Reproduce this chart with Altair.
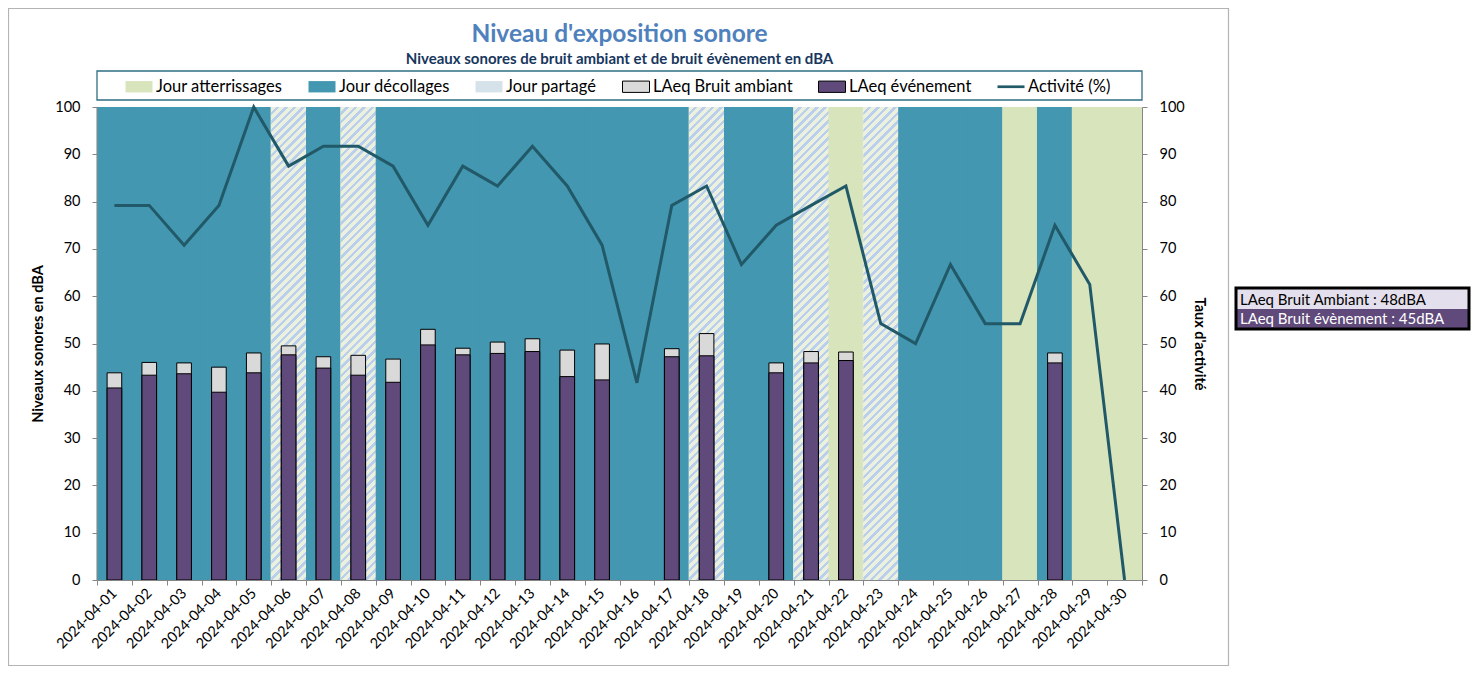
import altair as alt
import pandas as pd

# ---------------- data ----------------
dates = [
    "2024-04-01", "2024-04-02", "2024-04-03", "2024-04-04", "2024-04-05",
    "2024-04-06", "2024-04-07", "2024-04-08", "2024-04-09", "2024-04-10",
    "2024-04-11", "2024-04-12", "2024-04-13", "2024-04-14", "2024-04-15",
    "2024-04-16", "2024-04-17", "2024-04-18", "2024-04-19", "2024-04-20",
    "2024-04-21", "2024-04-22", "2024-04-23", "2024-04-24", "2024-04-25",
    "2024-04-26", "2024-04-27", "2024-04-28", "2024-04-29", "2024-04-30",
]
D, A, P = "Jour décollages", "Jour atterrissages", "Jour partagé"
day_types = [
    D, D, D, D, D,
    P, D, P, D, D,
    D, D, D, D, D,
    D, D, P, D, D,
    P, A, P, D, D,
    D, A, D, A, A,
]
ambient = [
    43.8, 46.0, 45.9, 45.0, 48.0,
    49.5, 47.2, 47.5, 46.7, 53.0,
    49.0, 50.3, 51.0, 48.6, 49.9,
    None, 48.9, 52.1, None, 45.9,
    48.3, 48.2, None, None, None,
    None, None, 48.0, None, None,
]
event = [
    40.6, 43.3, 43.6, 39.7, 43.8,
    47.6, 44.8, 43.3, 41.8, 49.7,
    47.6, 47.9, 48.3, 43.0, 42.3,
    None, 47.2, 47.4, None, 43.8,
    45.9, 46.4, None, None, None,
    None, None, 45.9, None, None,
]
activity = [
    79.2, 79.2, 70.8, 79.2, 100.0,
    87.5, 91.7, 91.7, 87.5, 75.0,
    87.5, 83.3, 91.7, 83.3, 70.8,
    41.7, 79.2, 83.3, 66.7, 75.0,
    79.2, 83.3, 54.2, 50.0, 66.7,
    54.2, 54.2, 75.0, 62.5, 0.0,
]
series_names = [
    "Jour atterrissages", "Jour décollages", "Jour partagé",
    "LAeq Bruit ambiant", "LAeq événement", "Activité (%)",
]
ambient_avg = 48
event_avg = 45
y_ticks = [0, 10, 20, 30, 40, 50, 60, 70, 80, 90, 100]

# ---------------- style ----------------
F = "Lato"
W, H = 1045, 473
C_LAND = "#d8e4bc"
C_TAKE = "#4397b0"
C_CREAM = "#ebf1de"
C_STRIPE = "#b9cfeb"
C_AMB = "#d9d9d9"
C_EVT = "#604a7b"
C_LINE = "#215968"
AX = "#868686"

series_fill = [C_LAND, C_TAKE, "#d6e2ea", C_AMB, C_EVT, C_LINE]
series_stroke = ["transparent", "transparent", "transparent", "black", "black", "transparent"]
RECT = "M-1,-0.42H1V0.42H-1Z"
LINE = "M-1,-0.1H1V0.1H-1Z"
series_shape = [RECT, RECT, RECT, RECT, RECT, LINE]
SYM = 729  # symbol size -> 27 px wide swatches


def stripe_stops(n):
    out = []
    for i in range(n):
        a, b, c = i / n, (i + 0.58) / n, (i + 1) / n
        out += [(a, C_CREAM), (b, C_CREAM), (b, C_STRIPE), (c, C_STRIPE)]
    return out


def stripe_vector(w, h):
    ra = w / h
    k = (ra + 1) / (ra * ra + 1)
    return k * ra, k


# hatch pattern as a diagonal striped gradient (bands)
bw = W / len(dates)
hx2, hy2 = stripe_vector(bw, H)
hatch_fill = alt.LinearGradient(
    gradient="linear",
    stops=[alt.GradientStop(offset=o, color=c) for o, c in stripe_stops(round((bw + H) / 8.5))],
    x1=0, y1=0, x2=hx2, y2=hy2)

# same pattern for the legend swatch (expression, no scale lookup needed)
sw, sh = 27, 27 * 0.42
lx2, ly2 = stripe_vector(sw, sh)
lstops = ",".join("{offset:%.4f,color:'%s'}" % (o, c) for o, c in stripe_stops(5))
leg_grad = "{gradient:'linear',x1:0,y1:0,x2:%.4f,y2:%.4f,stops:[%s]}" % (lx2, ly2, lstops)
leg_fill_expr = "'%s'" % series_fill[-1]
for name, col in reversed(list(zip(series_names[:-1], series_fill[:-1]))):
    val = leg_grad if name == P else "'%s'" % col
    leg_fill_expr = "(datum.value === '%s' ? %s : %s)" % (name, val, leg_fill_expr)

df = pd.DataFrame({"date": dates, "series": day_types, "ambient": ambient,
                   "event": event, "activity": activity})
one = pd.DataFrame({"k": [1]})
leg_df = pd.DataFrame({"series": series_names})

X = alt.X("date:N", sort=dates, title=None,
          scale=alt.Scale(paddingInner=0, paddingOuter=0),
          axis=alt.Axis(labelAngle=-45, labelAlign="right", labelBaseline="middle",
                        labelFont=F, labelFontSize=14.5, labelColor="black", labelPadding=6,
                        tickColor=AX, domainColor=AX, tickSize=5, tickBand="extent",
                        labelOverlap=False))

yscale = alt.Scale(domain=[0, 100], nice=False)

frame = alt.Chart(one).mark_rect(fill="transparent", stroke="#b4b4b4", strokeWidth=1.2).encode(
    x=alt.value(-88.5), x2=alt.value(1131.5), y=alt.value(-98.5), y2=alt.value(558.5))

legend_box = alt.Chart(one).mark_rect(fill="white", stroke="#2f6f84", strokeWidth=1.3).encode(
    x=alt.value(0), x2=alt.value(W), y=alt.value(-36), y2=alt.value(-7))

bands = alt.Chart(df).mark_rect(width=alt.RelativeBandSize(1.03)).encode(
    x=X,
    color=alt.Color("series:N", scale=alt.Scale(domain=[A, D, P], range=[C_LAND, C_TAKE, C_CREAM]),
                    legend=None))

hatch = alt.Chart(df).mark_rect(fill=hatch_fill).encode(x=X).transform_filter(
    alt.datum.series == P)

amb = alt.Chart(df).mark_bar(width=alt.RelativeBandSize(0.42), color=C_AMB, stroke="black",
                             strokeWidth=1).encode(
    x=X,
    y=alt.Y("ambient:Q", scale=yscale,
            axis=alt.Axis(values=y_ticks, title="Niveaux sonores en dBA", titleFont=F,
                          titleFontSize=14.5, titleFontWeight="bold", titleColor="black",
                          titlePadding=9, labelFont=F, labelFontSize=14.5, labelColor="black",
                          labelPadding=12, tickColor=AX, domainColor=AX, tickSize=5, grid=False,
                          zindex=2)),
).transform_filter("isValid(datum.ambient)")

evt = alt.Chart(df).mark_bar(width=alt.RelativeBandSize(0.42), color=C_EVT, stroke="black",
                             strokeWidth=1).encode(
    x=X,
    y=alt.Y("event:Q", scale=yscale),
).transform_filter("isValid(datum.event)")

line = alt.Chart(df).mark_line(color=C_LINE, strokeWidth=3).encode(
    x=X,
    y=alt.Y("activity:Q", scale=yscale,
            axis=alt.Axis(orient="right", values=y_ticks, title="Taux d'activité", titleFont=F,
                          titleFontSize=14.5, titleFontWeight="bold", titleColor="black",
                          titlePadding=7, labelFont=F, labelFontSize=14.5, labelColor="black",
                          labelPadding=12, tickColor=AX, domainColor=AX, tickSize=5, grid=False,
                          zindex=2)),
)

left = alt.layer(bands, hatch, amb, evt)
plot = alt.layer(left, line).resolve_scale(y="independent")

# info box on the right
bx0, bx1, by0, bym, by1 = 1139, 1372, 181, 202, 222
box_top = alt.Chart(one).mark_rect(fill="#e4dfec").encode(
    x=alt.value(bx0), x2=alt.value(bx1), y=alt.value(by0), y2=alt.value(bym))
box_bot = alt.Chart(one).mark_rect(fill=C_EVT).encode(
    x=alt.value(bx0), x2=alt.value(bx1), y=alt.value(bym), y2=alt.value(by1))
box_border = alt.Chart(one).mark_rect(fill="transparent", stroke="black", strokeWidth=3).encode(
    x=alt.value(bx0), x2=alt.value(bx1), y=alt.value(by0), y2=alt.value(by1))
txt_top = alt.Chart(one).mark_text(align="left", baseline="middle", font=F, fontSize=15,
                                   color="black").encode(
    x=alt.value(bx0 + 4), y=alt.value((by0 + bym) / 2 + 1),
    text=alt.value(f"LAeq Bruit Ambiant : {ambient_avg}dBA"))
txt_bot = alt.Chart(one).mark_text(align="left", baseline="middle", font=F, fontSize=15,
                                   color="white").encode(
    x=alt.value(bx0 + 4), y=alt.value((bym + by1) / 2),
    text=alt.value(f"LAeq Bruit évènement : {event_avg}dBA"))

leg = alt.Legend(orient="none", legendX=28, legendY=-34.5, direction="horizontal",
                 symbolSize=SYM, labelFont=F, labelFontSize=16.5, labelColor="black",
                 columnPadding=23, labelOffset=3, padding=0, symbolStrokeWidth=1)
legend_layer = alt.Chart(leg_df).mark_point(filled=True, opacity=1).encode(
    fill=alt.Fill("series:N", title=None, legend=leg,
                  scale=alt.Scale(domain=series_names, range=series_fill)),
    shape=alt.Shape("series:N", title=None, legend=leg,
                    scale=alt.Scale(domain=series_names, range=series_shape)),
    stroke=alt.Stroke("series:N", title=None, legend=leg,
                      scale=alt.Scale(domain=series_names, range=series_stroke)),
).transform_filter("false")

chart = alt.layer(
    frame, legend_box, plot,
    box_top, box_bot, box_border, txt_top, txt_bot, legend_layer,
).properties(
    width=W, height=H,
    padding={"left": 89, "top": 99, "right": 330, "bottom": 87},
    autosize=alt.AutoSizeParams(type="none"),
    title=alt.TitleParams(
        text="Niveau d'exposition sonore",
        subtitle="Niveaux sonores de bruit ambiant et de bruit évènement en dBA",
        anchor="middle", font=F, fontSize=24.5, fontWeight="bold", color="#4f81bd",
        subtitleFont=F, subtitleFontSize=15, subtitleFontWeight="bold",
        subtitleColor="#17375e", subtitlePadding=4, offset=-60),
).configure_view(strokeWidth=0)

# legend swatch hatch: inject the symbol fill rule after schema validation
_orig_to_dict = alt.LayerChart.to_dict


def _to_dict(self, *args, **kwargs):
    spec = _orig_to_dict(self, *args, **kwargs)
    try:
        for lyr in spec.get("layer", []):
            enc = lyr.get("encoding", {})
            if "fill" in enc and isinstance(enc["fill"].get("legend"), dict):
                enc["fill"]["legend"]["encode"] = {
                    "symbols": {"fill": {"value": {"expr": leg_fill_expr}}}}
    except Exception:
        pass
    return spec


alt.LayerChart.to_dict = _to_dict

chart.save("out.html", embed_options={"renderer": "svg", "actions": False})
